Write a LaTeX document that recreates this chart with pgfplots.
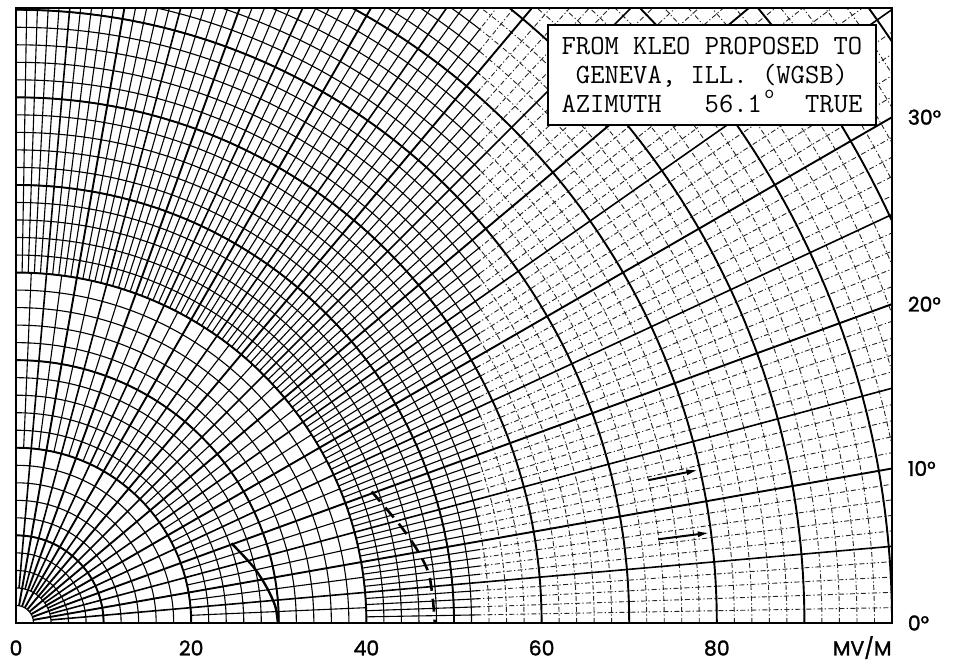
\documentclass[border=0pt]{standalone}
\usepackage{fontspec}
\usepackage{pgfplots}
\pgfplotsset{compat=1.18}
\usetikzlibrary{arrows.meta}
\newfontfamily\labelfont[FakeBold=1.5]{Poppins}
\tikzset{
  gthin/.style={line width=0.55pt, black},
  gthind/.style={line width=0.45pt, black!85, dash pattern=on 2.5pt off 1.2pt on 0.6pt off 1.2pt},
  gmed/.style={line width=0.95pt, black},
  gfive/.style={line width=0.8pt, black},
}
\newcommand\thingrid[1]{%
  \foreach \r in {2,4,...,122} {\draw[#1] (axis cs:0,0) circle[radius=\r*4.38pt];}
  \foreach \a in {2.5,7.5,...,87.5} {\draw[#1] (axis cs:{20*cos(\a)},{20*sin(\a)}) -- (axis cs:{40*cos(\a)},{40*sin(\a)});}
  \foreach \b in {0,5,...,85} {\foreach \c in {1,2,3,4} {
    \pgfmathsetmacro\a{\b+\c}
    \draw[#1] (axis cs:{40*cos(\a)},{40*sin(\a)}) -- (axis cs:{130*cos(\a)},{130*sin(\a)});
  }}%
}
\begin{document}
\begin{tikzpicture}
\begin{axis}[
  scale only axis, width=438pt, height=307.476pt,
  xmin=0, xmax=100, ymin=0, ymax=70.2,
  axis on top,
  axis line style={line width=1.2pt},
  major tick length=0pt,
  xtick={0,20,40,60,80,96.6},
  xticklabels={0,20,40,60,80,MV/M},
  ytick={0,17.633,36.397,57.735},
  yticklabels={0°,10°,20°,30°},
  yticklabel pos=right,
  ticklabel style={font=\labelfont\fontsize{10.2}{11}\selectfont},
  /pgf/number format/assume math mode=true,
  xticklabel style={yshift=-5.5pt, text height=7.2pt, text depth=0pt},
  yticklabel style={xshift=4.4pt},
]
\pgfplotsextra{
  \begin{scope}
  \clip (rel axis cs:0,0) rectangle (axis cs:53,70.2);
  \thingrid{gthin}
  \end{scope}
  \begin{scope}
  \clip (axis cs:53,0) rectangle (rel axis cs:1,1);
  \thingrid{gthind}
  \end{scope}
  \begin{scope}
  \clip (rel axis cs:0,0) rectangle (rel axis cs:1,1);
  \foreach \r in {10,20,...,120} {\draw[gmed] (axis cs:0,0) circle[radius=\r*4.38pt];}
  \foreach \a in {5,15,...,85} {\draw[gfive] (axis cs:{4*cos(\a)},{4*sin(\a)}) -- (axis cs:{130*cos(\a)},{130*sin(\a)});}
  \foreach \a in {0,10,...,90} {\draw[gmed] (axis cs:{2*cos(\a)},{2*sin(\a)}) -- (axis cs:{130*cos(\a)},{130*sin(\a)});}
  \end{scope}
}
% solid pattern curve
\addplot[line width=1.2pt, smooth, black] coordinates {
  (24.6,9.1) (27.1,6.4) (28.6,4.1) (29.6,1.9) (29.9,0)
};
% dashed pattern curve
\addplot[line width=1.3pt, smooth, black, dash pattern=on 6.5pt off 4pt] coordinates {
  (40.6,15.0) (43.8,11.2) (45.7,8.5) (47.1,5.7) (47.6,2.5) (47.8,0)
};
% arrows
\addplot[line width=1pt, black, -{Latex[length=6pt,width=3pt]}] coordinates {(72.2,16.3) (77.9,17.47)};
\addplot[line width=1pt, black, -{Latex[length=6pt,width=3pt]}] coordinates {(73.3,9.55) (79.2,10.3)};
% text box
\node[draw, line width=1pt, fill=white, align=center, inner sep=0pt,
      minimum width=164pt, minimum height=50pt,
      font=\ttfamily\fontsize{13.9}{14.3}\selectfont]
  at (axis cs:79.45,62.56)
  {FROM KLEO PROPOSED TO\\GENEVA, ILL. (WGSB)\\AZIMUTH\ \ \ 56.1\makebox[0.525em]{\smash{\raisebox{6.8pt}{\fontsize{9.5}{9.5}\selectfont o}}}\ \ TRUE};
\end{axis}
\path ([shift={(-8pt,-18.5pt)}]current axis.south west) rectangle ([shift={(35.5pt,4pt)}]current axis.north east);
\end{tikzpicture}
\end{document}
